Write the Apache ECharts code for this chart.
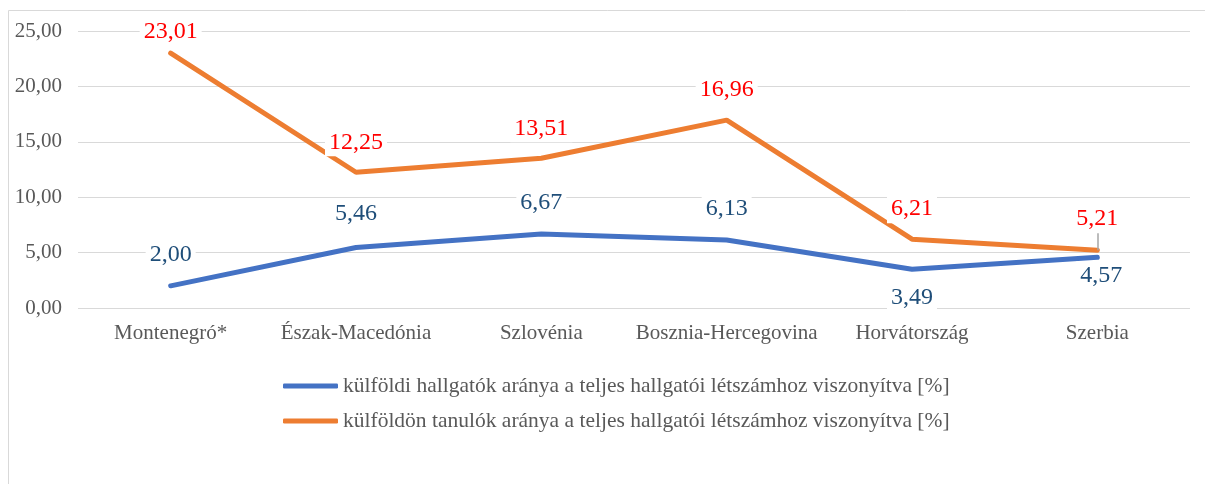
<!DOCTYPE html>
<html><head><meta charset="utf-8">
<script src="https://cdn.jsdelivr.net/npm/echarts@6/dist/echarts.min.js"></script>
<style>html,body{margin:0;padding:0;background:#fff}#c{width:1205px;height:484px}</style>
</head><body><div id="c"></div>
<script>
const categories = ['Montenegró*', 'Észak-Macedónia', 'Szlovénia', 'Bosznia-Hercegovina', 'Horvátország', 'Szerbia'];
const foreignStudents = [2.00, 5.46, 6.67, 6.13, 3.49, 4.57];
const studyingAbroad = [23.01, 12.25, 13.51, 16.96, 6.21, 5.21];
const seriesNames = ['külföldi hallgatók aránya a teljes hallgatói létszámhoz viszonyítva [%]', 'külföldön tanulók aránya a teljes hallgatói létszámhoz viszonyítva [%]'];
const yTicks = { min: 0, max: 25, interval: 5 };
const leaderTop = 6.75;

const fmt = v => v.toFixed(2).replace('.', ',');
const font = '"Liberation Serif", "Times New Roman", serif';
const chart = echarts.init(document.getElementById('c'));
const blueBelow = [false, false, false, false, true, true];
const blueDist = [17, 20, 17, 17, 14, 4];
const orangeDist = [7, 16, 16, 16, 16, 18];
chart.setOption({
  animation: false,
  textStyle: { fontFamily: font },
  graphic: [{ type: 'rect', shape: { x: 8.5, y: 10.5, width: 1300, height: 600 }, style: { fill: 'none', stroke: '#d9d9d9', lineWidth: 1 }, z: -1 }],
  grid: { left: 78, right: 15, top: 31, bottom: 176 },
  xAxis: {
    type: 'category', data: categories, boundaryGap: true,
    axisLine: { show: false }, axisTick: { show: false },
    axisLabel: { color: '#595959', fontSize: 21, fontFamily: font, margin: 15, interval: 0 }
  },
  yAxis: {
    type: 'value', min: yTicks.min, max: yTicks.max, interval: yTicks.interval,
    axisLine: { show: false }, axisTick: { show: false },
    splitLine: { lineStyle: { color: '#d9d9d9', width: 1 } },
    axisLabel: { color: '#595959', fontSize: 21, fontFamily: font, margin: 16, formatter: v => fmt(v) }
  },
  legend: {
    orient: 'vertical', left: 278, top: 370, itemGap: 13,
    itemWidth: 55, itemHeight: 5, icon: 'roundRect',
    textStyle: { color: '#595959', fontSize: 21.5, fontFamily: font },
    data: seriesNames
  },
  series: [
    {
      name: seriesNames[0], type: 'line', data: foreignStudents.map((v, i) => ({
        value: v,
        label: { position: blueBelow[i] ? 'bottom' : 'top', distance: blueDist[i], offset: i === 5 ? [4, 0] : [0, 0] }
      })),
      symbol: 'circle', symbolSize: 0, showSymbol: true, lineStyle: { color: '#4472C4', width: 5, cap: 'round' }, itemStyle: { color: '#4472C4' },
      label: { show: true, color: '#1F4E79', fontSize: 24, fontFamily: font, backgroundColor: '#fff', padding: [2, 4], formatter: p => fmt(p.value) }
    },
    {
      name: seriesNames[1], type: 'line', data: studyingAbroad.map((v, i) => ({
        value: v,
        label: { distance: orangeDist[i] }
      })),
      symbol: 'circle', symbolSize: 0, showSymbol: true, lineStyle: { color: '#ED7D31', width: 5, cap: 'round' }, itemStyle: { color: '#ED7D31' },
      label: { show: true, position: 'top', color: '#FF0000', fontSize: 24, fontFamily: font, backgroundColor: '#fff', padding: [2, 4], formatter: p => fmt(p.value) },
      markLine: {
        silent: true, symbol: 'none', label: { show: false },
        lineStyle: { color: '#a6a6a6', width: 1.5, type: 'solid' },
        data: [[{ coord: [5, studyingAbroad[5]] }, { coord: [5, leaderTop] }]]
      }
    }
  ]
});
</script></body></html>
